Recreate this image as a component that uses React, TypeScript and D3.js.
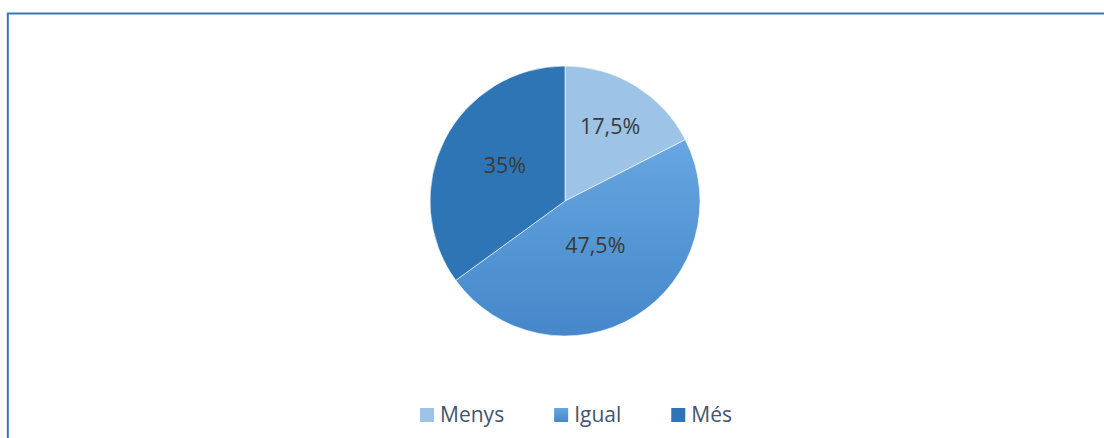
import React, { useEffect, useRef } from 'react';
import * as d3 from 'd3';

const categories = ['Menys', 'Igual', 'Més'];
const values = [17.5, 47.5, 35];
const valueLabels = ['17,5%', '47,5%', '35%'];

const App: React.FC = () => {
  const svgRef = useRef<SVGSVGElement>(null);

  useEffect(() => {
    if (!svgRef.current) return;
    const svg = d3.select(svgRef.current);
    svg.selectAll('*').remove();

    const width = 1104;
    const height = 438;
    const cx = 565;
    const cy = 201;
    const radius = 135;
    const font = '"Open Sans", "Liberation Sans", sans-serif';

    const defs = svg.append('defs');
    const grad = defs.append('linearGradient')
      .attr('id', 'igualGrad')
      .attr('x1', 0).attr('y1', 0).attr('x2', 0).attr('y2', 1);
    grad.append('stop').attr('offset', '0%').attr('stop-color', '#66a6e1');
    grad.append('stop').attr('offset', '100%').attr('stop-color', '#4587c9');

    const fills = ['#9dc3e6', 'url(#igualGrad)', '#2e75b6'];

    // frame (only top + left edges are visible in the crop)
    svg.append('line')
      .attr('x1', 7).attr('y1', 13.5).attr('x2', width).attr('y2', 13.5)
      .attr('stroke', '#3a76b3').attr('stroke-width', 2);
    svg.append('line')
      .attr('x1', 7.8).attr('y1', 13).attr('x2', 7.8).attr('y2', height)
      .attr('stroke', '#3a76b3').attr('stroke-width', 2);

    const pie = d3.pie<number>().sort(null).value(d => d);
    const arcs = pie(values);
    const arc = d3.arc<d3.PieArcDatum<number>>().innerRadius(0).outerRadius(radius);

    const g = svg.append('g').attr('transform', `translate(${cx},${cy})`);
    g.selectAll('path')
      .data(arcs)
      .join('path')
      .attr('d', arc)
      .attr('fill', (_, i) => fills[i])
      .attr('stroke', '#ffffff')
      .attr('stroke-width', 0.6);

    // best-fit style label radii (fraction of radius) + small lift
    const labelFactor = [0.64, 0.43, 0.5];
    const lift = [1, 5, 5];
    g.selectAll('text')
      .data(arcs)
      .join('text')
      .attr('transform', (d, i) => {
        const a = d3.arc<d3.PieArcDatum<number>>()
          .innerRadius(radius * labelFactor[i] * 2)
          .outerRadius(0);
        const [x, y] = a.centroid(d);
        return `translate(${x},${y - lift[i]})`;
      })
      .attr('text-anchor', 'middle')
      .attr('dy', '0.36em')
      .attr('font-family', font)
      .attr('font-size', 21.5)
      .attr('fill', '#3a3a3a')
      .text((_, i) => valueLabels[i]);

    // legend
    const legend = svg.append('g');
    const items = legend.selectAll('g')
      .data(categories)
      .join('g');
    items.append('rect')
      .attr('width', 14).attr('height', 14)
      .attr('y', -14)
      .attr('fill', (_, i) => fills[i]);
    const texts = items.append('text')
      .attr('x', 20)
      .attr('font-family', font)
      .attr('font-size', 21)
      .attr('fill', '#44546a')
      .text(d => d);

    const widths = texts.nodes().map(n => (n as SVGTextElement).getComputedTextLength());
    const gap = 50;
    let x = 0;
    const offsets = widths.map(w => {
      const o = x;
      x += 20 + w + gap;
      return o;
    });
    const total = x - gap;
    const startX = 576 - total / 2;
    items.attr('transform', (_, i) => `translate(${startX + offsets[i]},422)`);
  }, []);

  return (
    <div style={{ position: 'absolute', left: 0, top: 0, width: 1104, height: 438, background: '#fff' }}>
      <svg ref={svgRef} width={1104} height={438} style={{ display: 'block' }} />
    </div>
  );
};

export default App;
